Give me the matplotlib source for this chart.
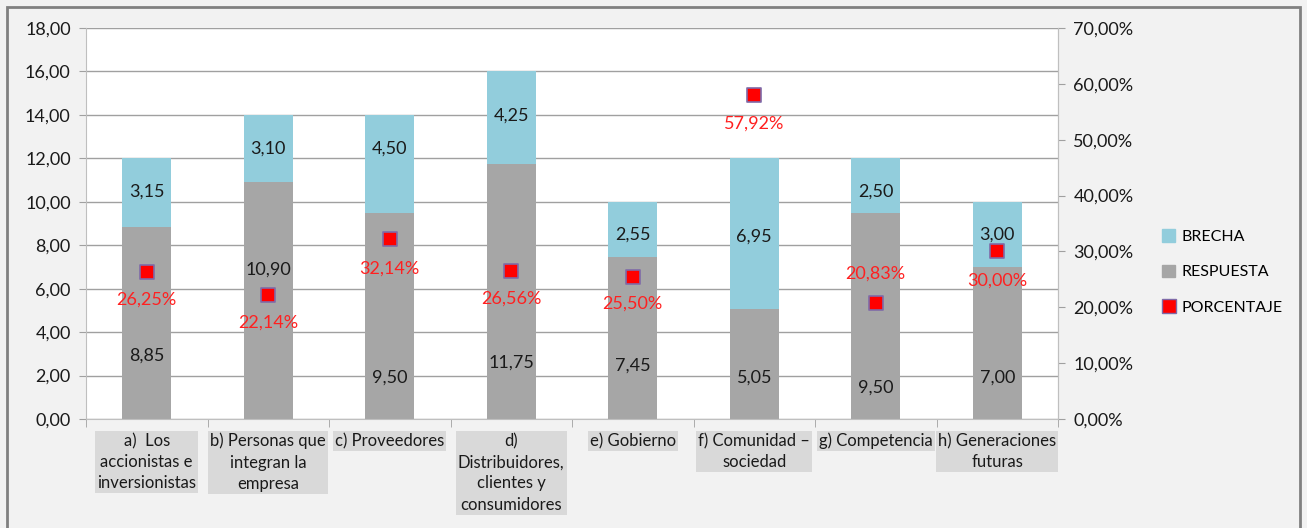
import matplotlib.pyplot as plt
from matplotlib.patches import Patch, Rectangle
from matplotlib.lines import Line2D
from matplotlib.ticker import FuncFormatter, MultipleLocator

plt.rcParams['font.family'] = ['Lato', 'DejaVu Sans']

categorias = ["a)  Los\naccionistas e\ninversionistas", "b) Personas que\nintegran la\nempresa",
              "c) Proveedores", "d)\nDistribuidores,\nclientes y\nconsumidores", "e) Gobierno",
              "f) Comunidad –\nsociedad", "g) Competencia", "h) Generaciones\nfuturas"]
respuesta = [8.85, 10.90, 9.50, 11.75, 7.45, 5.05, 9.50, 7.00]
brecha = [3.15, 3.10, 4.50, 4.25, 2.55, 6.95, 2.50, 3.00]
porcentaje = [26.25, 22.14, 32.14, 26.56, 25.50, 57.92, 20.83, 30.00]

# label positions (hand placed in the original chart)
resp_lab_y = [2.90, 6.86, 1.89, 2.58, 2.44, 1.89, 1.43, 1.89]
brecha_lab_y = [10.45, 12.43, 12.43, 13.95, 8.47, 8.40, 10.45, 8.47]
pct_lab_y = [21.3, 17.2, 27.0, 21.5, 20.6, 52.8, 26.1, 24.7]

c_brecha = '#92cddc'
c_resp = '#a6a6a6'
grid_c = '#a0a0a0'

def coma(v, dec=2):
    return f"{v:.{dec}f}".replace('.', ',')

fig = plt.figure(figsize=(13.07, 5.28), dpi=100, facecolor='#f2f2f2')
ax = fig.add_axes([86/1307, 1-419/528, (1058-86)/1307, (419-28)/528])
ax.set_facecolor('white')
x = list(range(len(categorias)))

ax.bar(x, respuesta, width=0.4, color=c_resp, zorder=2)
ax.bar(x, brecha, bottom=respuesta, width=0.4, color=c_brecha, zorder=2)
for i in x:
    ax.text(i, resp_lab_y[i], coma(respuesta[i]), ha='center', va='center', fontsize=13, color='#1a1a1a', zorder=3)
    ax.text(i, brecha_lab_y[i], coma(brecha[i]), ha='center', va='center', fontsize=13, color='#1a1a1a', zorder=3)

ax.set_xlim(-0.5, len(categorias) - 0.5)
ax.set_ylim(0, 18)
ax.yaxis.set_major_locator(MultipleLocator(2))
ax.yaxis.set_major_formatter(FuncFormatter(lambda v, p: coma(v)))
ax.grid(axis='y', color=grid_c, lw=1, zorder=0)
ax.set_axisbelow(True)
ax.spines['top'].set_visible(False)
for s in ['left', 'right', 'bottom']:
    ax.spines[s].set_color('#bfbfbf')
ax.tick_params(axis='y', length=5, color=grid_c, labelsize=13, pad=6, labelcolor='#1a1a1a')

ax.set_xticks(x)
ax.set_xticklabels(categorias, fontsize=12, linespacing=1.4, color='#1a1a1a')
ax.set_xticks([i - 0.5 for i in range(len(categorias) + 1)], minor=True)
ax.tick_params(axis='x', which='major', length=0, pad=10)
ax.tick_params(axis='x', which='minor', length=6, color=grid_c)
for lab in ax.get_xticklabels():
    lab.set_bbox(dict(facecolor='#d9d9d9', edgecolor='none', pad=1.5))

ax2 = ax.twinx()
ax2.set_ylim(0, 70)
ax2.yaxis.set_major_locator(MultipleLocator(10))
ax2.yaxis.set_major_formatter(FuncFormatter(lambda v, p: coma(v) + '%'))
ax2.tick_params(axis='y', length=5, color=grid_c, labelsize=13, pad=6, labelcolor='#1a1a1a')
for s in ['top', 'left', 'bottom']:
    ax2.spines[s].set_visible(False)
ax2.spines['right'].set_color('#bfbfbf')
ax2.scatter(x, porcentaje, marker='s', s=110, color='#ff0000', edgecolor='#7f6aa8', linewidth=1.2, zorder=4)
for i in x:
    ax2.text(i, pct_lab_y[i], coma(porcentaje[i]) + '%', ha='center', va='center', fontsize=13, color='#ff2020', zorder=5)

handles = [Patch(color=c_brecha), Patch(color=c_resp),
           Line2D([], [], marker='s', ls='none', markersize=10, color='#ff0000', markeredgecolor='#7f6aa8')]
fig.legend(handles, ['BRECHA', 'RESPUESTA', 'PORCENTAJE'], loc='upper left',
           bbox_to_anchor=(1148/1307, 1-215/528), frameon=False, fontsize=11.5,
           handlelength=0.8, handleheight=0.8, handletextpad=0.4, labelspacing=1.3)

fig.patches.append(Rectangle((7/1307, -0.05), 1293/1307, 1.05-7/528, transform=fig.transFigure,
                             fill=False, edgecolor='#808080', lw=2))

fig.savefig('out.png', dpi=100, facecolor=fig.get_facecolor())
